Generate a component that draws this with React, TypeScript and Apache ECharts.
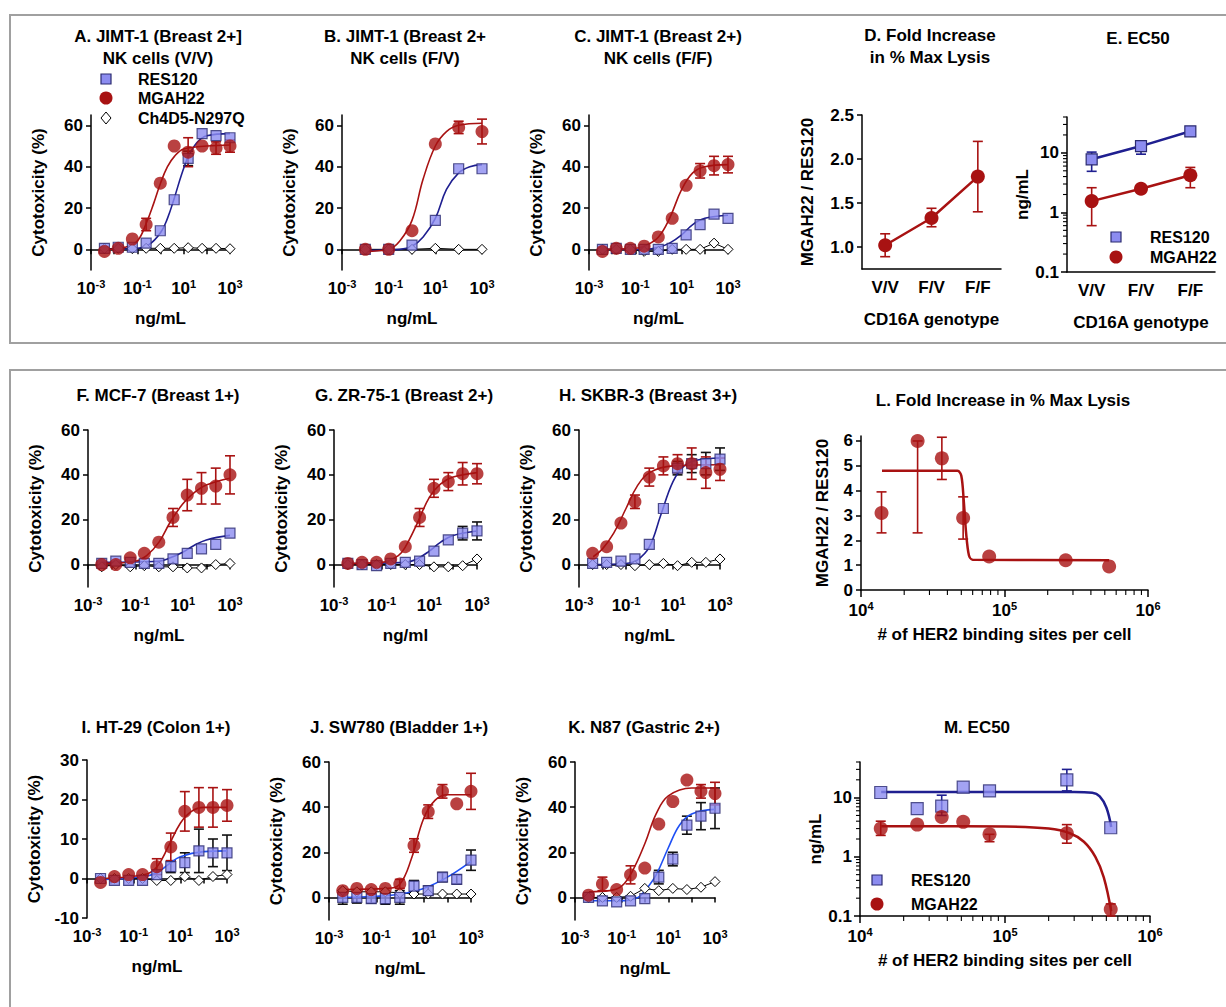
import { useEffect, useRef } from 'react'
import * as echarts from 'echarts'

// concentrations (ng/mL), 4-fold dilutions and 10-fold for panel B
const conc = [0.0038, 0.015, 0.061, 0.24, 0.98, 3.9, 15.6, 62.5, 250, 1000]
const concB = [0.01, 0.1, 1, 10, 100, 1000]

const aRes = [0.5, 1, 1, 3, 9, 24, 44, 56, 55, 54]
const aResErr = [0, 0, 0, 0, 0, 0, 3.5, 0, 0, 0]
const aMgah = [-1, 0.5, 5, 12, 32, 50, 47, 50, 49, 50]
const aMgahErr = [0, 0, 0, 3, 0, 0, 7, 0, 3, 3]
const aCh = [0.3, 0.5, 0.3, 0.5, 0.5, 0.5, 0.8, 0.5, 0.5, 0.3]
const aResFit = [[0.004, 0], [0.1, 0.5], [0.3, 2], [1, 8], [2, 15], [4, 25], [8, 36], [16, 45], [40, 52], [100, 55], [1000, 56]]
const aMgahFit = [[0.004, 0], [0.03, 1], [0.1, 4], [0.25, 13], [0.5, 22], [1, 32], [2, 40], [4, 45], [10, 48.5], [100, 50], [1000, 50.5]]

const bRes = [0, 0, 2, 14, 39, 39]
const bMgah = [0, 0, 9, 51, 59, 57]
const bMgahErr = [0, 0, 0, 0, 3, 6]
const bCh = [0, 0, 0, 0.5, 0, 0]
const bResFit = [[0.01, -0.5], [0.3, 0], [1, 1.5], [3, 6], [10, 15], [30, 29], [100, 37], [300, 40], [1000, 41]]
const bMgahFit = [[0.01, -1], [0.1, 0], [0.3, 4], [1, 14], [3, 34], [10, 50], [30, 57], [100, 60], [1000, 61]]

const cRes = [0, 0.5, 0, 0, 0, 0.5, 7, 12, 17, 15]
const cMgah = [-1, 0.5, 0.5, 1.5, 6, 15, 31, 38, 40.5, 41]
const cMgahErr = [0, 0, 0, 0, 0, 0, 0, 3.5, 4.5, 4]
const cCh = [0, 0, 0, -1, -1, 0, 0, 0, 3, 0]
const cResFit = [[0.004, 0], [0.3, 0], [1, 1], [3, 3], [10, 7], [30, 12], [100, 15], [1000, 16.5]]
const cMgahFit = [[0.004, 0], [0.1, 0.5], [0.3, 2], [1, 6], [3, 15], [10, 29], [30, 37], [100, 40], [1000, 41]]

const fRes = [0.5, 1.5, 1, 0.5, 0.5, 2.5, 5, 7, 9, 14]
const fMgah = [0, 0, 3, 5, 10, 21, 31, 34, 35, 40]
const fMgahErr = [0, 0, 0, 0, 0, 4, 7, 7, 8, 8.5]
const fCh = [-1, 0, -1, -0.5, -1, -1, -1.5, -1.5, 0, 0.5]
const fResFit = [[0.004, 1], [1, 1.5], [3, 3], [10, 5.5], [30, 8.5], [100, 11], [1000, 13]]
const fMgahFit = [[0.004, 0.5], [0.1, 1.5], [0.3, 4], [1, 10], [3, 19], [10, 27], [30, 32], [100, 35.5], [1000, 38.5]]

const gRes = [0.5, 0, -0.5, 0.5, 1, 1.5, 6, 11, 14, 15]
const gResErr = [0, 0, 0, 0, 0, 0, 0, 0, 3, 4]
const gMgah = [0.5, 1, 1, 2.5, 8, 21, 34, 37, 40.5, 40.5]
const gMgahErr = [0, 0, 0, 0, 0, 4, 4, 4, 5, 4.5]
const gCh = [0, 0, 0, 0, 0, 0, -1, -1, -0.5, 2.5]
const gResFit = [[0.004, 0.5], [1, 1], [3, 2.5], [10, 6], [30, 10], [100, 13], [1000, 15]]
const gMgahFit = [[0.004, 0.5], [0.1, 1], [0.5, 4], [1, 8], [3, 18], [10, 30], [30, 36], [100, 39], [1000, 41]]

const hRes = [0.5, 1, 1.5, 2.5, 9, 25, 43, 45, 45, 47]
const hResErr = [0, 0, 0, 0, 0, 0, 3, 4, 5, 5]
const hMgah = [5, 8, 18.5, 28, 39, 44, 45, 45, 41, 42.5]
const hMgahErr = [0, 0, 0, 3, 4, 4, 4, 7, 7, 5]
const hCh = [0, 0, 0, -0.5, 0, 0.5, -0.5, 1, 1, 2.5]
const hResFit = [[0.004, 0], [0.1, 0.5], [0.3, 2], [1, 8], [3, 22], [10, 37], [30, 44], [100, 46.5], [1000, 47.5]]
const hMgahFit = [[0.004, 3.5], [0.01, 7], [0.03, 14], [0.1, 25], [0.3, 35], [1, 41], [10, 44], [1000, 44.5]]

const iRes = [0, -0.5, -0.5, -0.5, 1, 3, 4, 7, 6.5, 6.5]
const iResErr = [0, 0, 0, 0, 0, 1.5, 2.5, 5.5, 3.5, 4.5]
const iMgah = [-1, 0.5, 1, 1, 3, 8, 17, 18, 18, 18.5]
const iMgahErr = [0, 0, 0, 0, 2, 3.5, 5, 5, 5, 4]
const iCh = [0, 0, 0, 0, -0.5, -0.5, 0.5, -0.5, 0.5, 1]
const iResFit = [[0.004, -0.3], [0.3, 0.5], [1, 1.5], [3, 3.5], [10, 5.5], [100, 6.8], [1000, 7]]
const iMgahFit = [[0.004, 0], [0.3, 1], [1, 3], [3, 8], [10, 14], [30, 17], [100, 18], [1000, 18]]

const jRes = [0, 0, -0.5, -0.5, 0, 5, 3, 9, 8, 16.5]
const jResErr = [3, 2.5, 2, 2.5, 3, 2.5, 2, 2, 2, 4.5]
const jMgah = [3, 4, 3.5, 4, 6, 23, 38, 47, 41.5, 47]
const jMgahErr = [0, 0, 0, 0, 2, 3, 3, 3, 0, 8]
const jCh = [3, 2.5, 2.5, 2.5, 2, 1.5, 1.5, 1.5, 1.5, 1.5]
const jResFit = [[0.004, 0], [0.1, 0.5], [1, 1.5], [10, 4], [100, 9], [1000, 16]]
const jMgahFit = [[0.004, 3.5], [0.3, 4], [1, 6], [3, 17], [10, 35], [30, 43], [100, 45.5], [1000, 45.5]]

const kRes = [0, -1.5, -2, -1.5, -0.5, 9, 17, 32, 36, 39.5]
const kResErr = [0, 0, 0, 0, 0, 3, 3, 4, 6, 9]
const kMgah = [1, 6, 3.5, 10, 13, 32.5, 42.5, 52, 47, 46]
const kMgahErr = [0, 3, 0, 4, 0, 0, 0, 0, 3, 5]
const kCh = [0, 0, 0, 0.5, 4, 3, 4, 3.5, 4.5, 7]
const kResFit = [[0.004, -1.5], [0.1, -1.5], [0.5, 0], [1, 3], [3, 10], [10, 22], [30, 32], [100, 37], [1000, 39]]
const kMgahFit = [[0.004, 2.5], [0.03, 3], [0.1, 5], [0.3, 12], [1, 24], [3, 37], [10, 45], [100, 48.5], [1000, 48.5]]

const genotypes = ['V/V', 'F/V', 'F/F']
const dVals = [1.02, 1.33, 1.8]
const dLo = [0.89, 1.23, 1.4]
const dHi = [1.15, 1.44, 2.2]
const eRes = [7.8, 13, 23]
const eResLo = [4.9, 9.5, 23]
const eResHi = [10.3, 15, 23]
const eMgah = [1.55, 2.5, 4.2]
const eMgahLo = [0.6, 2.5, 2.6]
const eMgahHi = [2.6, 2.5, 5.7]

const sites = [13900, 24800, 36600, 51500, 78200, 267000, 536000]
const lVals = [3.1, 6, 5.3, 2.9, 1.35, 1.2, 0.95]
const lLo = [2.3, 2.3, 4.45, 2.05, 1.35, 1.2, 0.95]
const lHi = [3.95, 6, 6.15, 3.75, 1.35, 1.2, 0.95]
const lFit = [[14000, 4.8], [47000, 4.8], [50000, 4.6], [52000, 3.6], [54000, 2.3], [56500, 1.4], [60000, 1.22], [536000, 1.2]]
const mRes = [12.2, 6.5, 7.2, 15, 13, 20, 3.1]
const mResLo = [12.2, 6.5, 5, 15, 13, 13, 3.1]
const mResHi = [12.2, 6.5, 11, 15, 13, 30, 3.1]
const mMgah = [3, 3.5, 4.7, 3.9, 2.4, 2.5, 0.13]
const mMgahLo = [2.3, 3.5, 4.7, 3.9, 1.8, 1.7, 0.1]
const mMgahHi = [4, 3.5, 4.7, 3.9, 2.4, 3.5, 0.16]
const mResFit = [[14000, 12.5], [300000, 12.5], [400000, 12.1], [450000, 10.5], [500000, 6.8], [540000, 3.2]]
const mMgahFit = [[14000, 3.3], [100000, 3.25], [200000, 3.0], [280000, 2.5], [350000, 1.8], [420000, 1.0], [480000, 0.45], [540000, 0.12]]

const RED = '#a81212'
const NAVY = '#1f1f90'
const BLUE = '#1f50f5'
const SQ_FILL = '#8c8cf0'
const SQ_EDGE = '#2b2b70'
const FONT = 'Liberation Sans'

const decades = [0.001, 0.01, 0.1, 1, 10, 100, 1000]
const minors = (lo: number, hi: number) => {
  const out: number[] = []
  for (let d = lo; d < hi; d *= 10) for (let k = 2; k <= 9; k++) out.push(d * k)
  return out
}
const sup = (v: number) => `{b|10}{s|${Math.round(Math.log10(v))}}`
const supRich = {
  b: { fontSize: 17, fontWeight: 'bold', fontFamily: FONT, color: '#000' },
  s: { fontSize: 11, fontWeight: 'bold', fontFamily: FONT, color: '#000', padding: [0, 0, 10, 0] },
}

export default function App() {
  const ref = useRef<HTMLDivElement>(null)

  useEffect(() => {
    if (!ref.current) return
    const chart = echarts.init(ref.current, undefined, { renderer: 'svg' })

    const grid: any[] = []
    const xAxis: any[] = []
    const yAxis: any[] = []
    const series: any[] = []
    const graphic: any[] = []

    const axisLine = { lineStyle: { color: '#000', width: 1.5 } }
    const lbl = { color: '#000', fontSize: 17, fontWeight: 'bold', fontFamily: FONT }
    const nameStyle = { color: '#000', fontSize: 17, fontWeight: 'bold', fontFamily: FONT }

    const errSeries = (gi: number, xi: number, yi: number, data: number[][], color: string) => ({
      type: 'custom',
      xAxisIndex: xi,
      yAxisIndex: yi,
      z: 1,
      data: data.filter((d) => d[2] > d[1]),
      renderItem: (_p: any, api: any) => {
        const a = api.coord([api.value(0), api.value(1)])
        const b = api.coord([api.value(0), api.value(2)])
        const st = { stroke: color, lineWidth: 1.6 }
        return {
          type: 'group',
          children: [
            { type: 'line', shape: { x1: a[0], y1: a[1], x2: b[0], y2: b[1] }, style: st },
            { type: 'line', shape: { x1: a[0] - 5, y1: a[1], x2: a[0] + 5, y2: a[1] }, style: st },
            { type: 'line', shape: { x1: b[0] - 5, y1: b[1], x2: b[0] + 5, y2: b[1] }, style: st },
          ],
        }
      },
    })
    // minor ticks on log axes, placed through the axis scale
    const minorTicks = (xi: number, yi: number, vals: number[], dir: 'x' | 'y', other: number) => ({
      type: 'custom',
      xAxisIndex: xi,
      yAxisIndex: yi,
      silent: true,
      clip: false,
      data: vals.map((v) => (dir === 'x' ? [v, other] : [other, v])),
      renderItem: (params: any, api: any) => {
        const cs = params.coordSys
        const p = api.coord([api.value(0), api.value(1)])
        const st = { stroke: '#000', lineWidth: 1.1 }
        if (dir === 'x') {
          const y0 = cs.y + cs.height
          return { type: 'group', children: [{ type: 'line', shape: { x1: p[0], y1: y0, x2: p[0], y2: y0 + 5 }, style: st }] }
        }
        return { type: 'group', children: [{ type: 'line', shape: { x1: cs.x - 4, y1: p[1], x2: cs.x, y2: p[1] }, style: st }] }
      },
    })
    const title = (text: string, x: number, y: number, size = 17) =>
      graphic.push({
        type: 'text', x, y,
        style: { text, fill: '#000', font: `bold ${size}px "${FONT}"`, textAlign: 'center', textVerticalAlign: 'middle' },
      })

    const curvePanel = (p: any) => {
      const gi = grid.length
      grid.push({ left: p.left, top: p.top, width: p.width, height: p.height })
      const xi = xAxis.length
      xAxis.push({
        type: 'log', logBase: 10, gridIndex: gi, min: 0.001, max: 1000, position: 'bottom',
        axisLine, splitLine: { show: false },
        axisTick: { customValues: decades, length: 5, lineStyle: { color: '#000', width: 1.5 } },
        axisLabel: { customValues: [0.001, 0.1, 10, 1000], formatter: sup, rich: supRich, margin: 8 },
        name: p.xName || 'ng/mL', nameLocation: 'middle', nameGap: 40, nameTextStyle: nameStyle,
      })
      const yi = yAxis.length
      yAxis.push({
        type: 'value', gridIndex: gi, min: p.ymin, max: p.ymax, position: 'left',
        axisLine: { show: true, ...axisLine }, splitLine: { show: false },
        axisTick: { show: true, customValues: p.yticks, length: 5, lineStyle: { color: '#000', width: 1.5 } },
        axisLabel: { ...lbl, customValues: p.yticks },
        name: 'Cytotoxicity (%)', nameLocation: 'middle', nameGap: 44, nameTextStyle: nameStyle,
      })
      const x = p.x
      const pairs = (v: number[]) => v.map((y, i) => [x[i], y])
      const errs = (v: number[], e: number[]) => v.map((y, i) => [x[i], y - e[i], y + e[i]])
      const zero = x.map(() => 0)
      series.push(
        errSeries(gi, xi, yi, errs(p.res, p.resErr || zero), '#111'),
        errSeries(gi, xi, yi, errs(p.mgah, p.mgahErr || zero), RED),
        { type: 'line', xAxisIndex: xi, yAxisIndex: yi, data: pairs(p.ch), symbol: 'diamond', symbolSize: 10, z: 2,
          itemStyle: { color: '#fff', borderColor: '#000', borderWidth: 1 }, lineStyle: { color: '#000', width: 1 } },
        { type: 'line', xAxisIndex: xi, yAxisIndex: yi, data: p.resFit, showSymbol: false, smooth: 0.4, z: 2,
          lineStyle: { color: p.blue, width: 1.6 } },
        { type: 'line', xAxisIndex: xi, yAxisIndex: yi, data: p.mgahFit, showSymbol: false, smooth: 0.4, z: 2,
          lineStyle: { color: RED, width: 1.6 } },
        { type: 'scatter', xAxisIndex: xi, yAxisIndex: yi, data: pairs(p.res), symbol: 'rect', symbolSize: 10, z: 3,
          itemStyle: { color: SQ_FILL, borderColor: SQ_EDGE, borderWidth: 1.2 } },
        { type: 'scatter', xAxisIndex: xi, yAxisIndex: yi, data: pairs(p.mgah), symbol: 'circle', symbolSize: 13, z: 4,
          itemStyle: { color: RED } },
      )
    }

    const t60 = [0, 20, 40, 60]
    curvePanel({ left: 91, top: 115, width: 139, height: 155, ymin: -10, ymax: 65, yticks: t60, x: conc,
      res: aRes, resErr: aResErr, mgah: aMgah, mgahErr: aMgahErr, ch: aCh, resFit: aResFit, mgahFit: aMgahFit, blue: NAVY })
    curvePanel({ left: 342, top: 115, width: 140, height: 155, ymin: -10, ymax: 65, yticks: t60, x: concB,
      res: bRes, mgah: bMgah, mgahErr: bMgahErr, ch: bCh, resFit: bResFit, mgahFit: bMgahFit, blue: NAVY })
    curvePanel({ left: 589, top: 115, width: 139, height: 155, ymin: -10, ymax: 65, yticks: t60, x: conc,
      res: cRes, mgah: cMgah, mgahErr: cMgahErr, ch: cCh, resFit: cResFit, mgahFit: cMgahFit, blue: NAVY })
    curvePanel({ left: 88, top: 430, width: 142, height: 157, ymin: -10, ymax: 60, yticks: t60, x: conc,
      res: fRes, mgah: fMgah, mgahErr: fMgahErr, ch: fCh, resFit: fResFit, mgahFit: fMgahFit, blue: NAVY })
    curvePanel({ left: 334, top: 430, width: 143, height: 157, ymin: -10, ymax: 60, yticks: t60, x: conc, xName: 'ng/ml',
      res: gRes, resErr: gResErr, mgah: gMgah, mgahErr: gMgahErr, ch: gCh, resFit: gResFit, mgahFit: gMgahFit, blue: NAVY })
    curvePanel({ left: 579, top: 430, width: 141, height: 157, ymin: -10, ymax: 60, yticks: t60, x: conc,
      res: hRes, resErr: hResErr, mgah: hMgah, mgahErr: hMgahErr, ch: hCh, resFit: hResFit, mgahFit: hMgahFit, blue: NAVY })
    curvePanel({ left: 87, top: 760, width: 140, height: 158, ymin: -10, ymax: 30, yticks: [-10, 0, 10, 20, 30], x: conc,
      res: iRes, resErr: iResErr, mgah: iMgah, mgahErr: iMgahErr, ch: iCh, resFit: iResFit, mgahFit: iMgahFit, blue: BLUE })
    curvePanel({ left: 329, top: 762, width: 142, height: 158, ymin: -10, ymax: 60, yticks: t60, x: conc,
      res: jRes, resErr: jResErr, mgah: jMgah, mgahErr: jMgahErr, ch: jCh, resFit: jResFit, mgahFit: jMgahFit, blue: BLUE })
    curvePanel({ left: 575, top: 762, width: 140, height: 158, ymin: -10, ymax: 60, yticks: t60, x: conc,
      res: kRes, resErr: kResErr, mgah: kMgah, mgahErr: kMgahErr, ch: kCh, resFit: kResFit, mgahFit: kMgahFit, blue: BLUE })

    const ecMinors = minors(0.1, 10).concat([20, 30, 40])

    // D: fold increase by genotype
    {
      const gi = grid.length
      grid.push({ left: 862, top: 115, width: 139, height: 154 })
      const xi = xAxis.length
      xAxis.push({ type: 'category', gridIndex: gi, data: genotypes, axisLine, axisTick: { alignWithLabel: true, length: 5, lineStyle: { color: '#000', width: 1.5 } },
        axisLabel: { ...lbl, margin: 10 }, name: 'CD16A genotype', nameLocation: 'middle', nameGap: 42, nameTextStyle: nameStyle })
      const yi = yAxis.length
      const dt = [1, 1.5, 2, 2.5]
      yAxis.push({ type: 'value', gridIndex: gi, min: 0.75, max: 2.5, axisLine: { show: true, ...axisLine }, splitLine: { show: false },
        axisTick: { show: true, customValues: dt, length: 5, lineStyle: { color: '#000', width: 1.5 } },
        axisLabel: { ...lbl, customValues: dt, formatter: (v: number) => v.toFixed(1) },
        name: 'MGAH22 / RES120', nameLocation: 'middle', nameGap: 46, nameTextStyle: nameStyle })
      series.push(
        errSeries(gi, xi, yi, dVals.map((_, i) => [i, dLo[i], dHi[i]]), RED),
        { type: 'line', xAxisIndex: xi, yAxisIndex: yi, data: dVals, symbol: 'circle', symbolSize: 14,
          itemStyle: { color: RED }, lineStyle: { color: RED, width: 2.5 } },
      )
    }
    // E: EC50 by genotype
    {
      const gi = grid.length
      grid.push({ left: 1067, top: 117, width: 148, height: 155 })
      const xi = xAxis.length
      xAxis.push({ type: 'category', gridIndex: gi, data: genotypes, axisLine, axisTick: { alignWithLabel: true, length: 5, lineStyle: { color: '#000', width: 1.5 } },
        axisLabel: { ...lbl, margin: 10 }, name: 'CD16A genotype', nameLocation: 'middle', nameGap: 42, nameTextStyle: nameStyle })
      const yi = yAxis.length
      yAxis.push({ type: 'log', logBase: 10, gridIndex: gi, min: 0.1, max: 40, position: 'left', axisLine: { show: true, ...axisLine }, splitLine: { show: false },
        axisTick: { show: true, customValues: [0.1, 1, 10], length: 6, lineStyle: { color: '#000', width: 1.5 } },
        axisLabel: { ...lbl, customValues: [0.1, 1, 10], formatter: (v: number) => String(v) },
        name: 'ng/mL', nameLocation: 'middle', nameGap: 30, nameTextStyle: nameStyle })
      series.push(
        minorTicks(xi, yi, ecMinors, 'y', 0),
        errSeries(gi, xi, yi, eRes.map((_, i) => [i, eResLo[i], eResHi[i]]), NAVY),
        errSeries(gi, xi, yi, eMgah.map((_, i) => [i, eMgahLo[i], eMgahHi[i]]), RED),
        { type: 'line', xAxisIndex: xi, yAxisIndex: yi, data: eRes, symbol: 'rect', symbolSize: 11,
          itemStyle: { color: SQ_FILL, borderColor: SQ_EDGE, borderWidth: 1.2 }, lineStyle: { color: NAVY, width: 2.5 } },
        { type: 'line', xAxisIndex: xi, yAxisIndex: yi, data: eMgah, symbol: 'circle', symbolSize: 14,
          itemStyle: { color: RED }, lineStyle: { color: RED, width: 2.5 } },
      )
    }
    const sitesAxis = (gi: number) => {
      xAxis.push({ type: 'log', logBase: 10, gridIndex: gi, min: 1e4, max: 1e6, position: 'bottom', axisLine, splitLine: { show: false },
        axisTick: { customValues: [1e4, 1e5, 1e6], length: 7, lineStyle: { color: '#000', width: 1.5 } },
        axisLabel: { customValues: [1e4, 1e5, 1e6], formatter: sup, rich: supRich, margin: 10 },
        name: '# of HER2 binding sites per cell', nameLocation: 'middle', nameGap: 36, nameTextStyle: nameStyle })
    }
    // L: fold increase vs HER2 sites
    {
      const gi = grid.length
      grid.push({ left: 861, top: 436, width: 287, height: 154 })
      const xi = xAxis.length
      sitesAxis(gi)
      const yi = yAxis.length
      const lt = [0, 1, 2, 3, 4, 5, 6]
      yAxis.push({ type: 'value', gridIndex: gi, min: 0, max: 6.2, axisLine: { show: true, ...axisLine }, splitLine: { show: false },
        axisTick: { show: true, customValues: lt, length: 5, lineStyle: { color: '#000', width: 1.5 } },
        axisLabel: { ...lbl, customValues: lt },
        name: 'MGAH22 / RES120', nameLocation: 'middle', nameGap: 30, nameTextStyle: nameStyle })
      const pts = sites.map((s, i) => [s, lVals[i]])
      series.push(
        minorTicks(xi, yi, minors(1e4, 1e6), 'x', 1),
        errSeries(gi, xi, yi, sites.map((s, i) => [s, lLo[i], lHi[i]]), RED),
        { type: 'line', xAxisIndex: xi, yAxisIndex: yi, data: lFit, showSymbol: false, smooth: 0.3, lineStyle: { color: RED, width: 2.5 } },
        { type: 'scatter', xAxisIndex: xi, yAxisIndex: yi, data: pts, symbolSize: 14, itemStyle: { color: RED }, z: 4 },
      )
    }
    // M: EC50 vs HER2 sites
    {
      const gi = grid.length
      grid.push({ left: 860, top: 762, width: 290, height: 154 })
      const xi = xAxis.length
      sitesAxis(gi)
      const yi = yAxis.length
      yAxis.push({ type: 'log', logBase: 10, gridIndex: gi, min: 0.1, max: 40, position: 'left', axisLine: { show: true, ...axisLine }, splitLine: { show: false },
        axisTick: { show: true, customValues: [0.1, 1, 10], length: 6, lineStyle: { color: '#000', width: 1.5 } },
        axisLabel: { ...lbl, customValues: [0.1, 1, 10], formatter: (v: number) => String(v) },
        name: 'ng/mL', nameLocation: 'middle', nameGap: 36, nameTextStyle: nameStyle })
      series.push(
        minorTicks(xi, yi, minors(1e4, 1e6), 'x', 1),
        minorTicks(xi, yi, ecMinors, 'y', 1e4),
        errSeries(gi, xi, yi, sites.map((s, i) => [s, mResLo[i], mResHi[i]]), NAVY),
        errSeries(gi, xi, yi, sites.map((s, i) => [s, mMgahLo[i], mMgahHi[i]]), RED),
        { type: 'line', xAxisIndex: xi, yAxisIndex: yi, data: mResFit, showSymbol: false, smooth: 0.4, lineStyle: { color: NAVY, width: 2.5 } },
        { type: 'line', xAxisIndex: xi, yAxisIndex: yi, data: mMgahFit, showSymbol: false, smooth: 0.4, lineStyle: { color: RED, width: 2.5 } },
        { type: 'scatter', xAxisIndex: xi, yAxisIndex: yi, data: sites.map((s, i) => [s, mRes[i]]), symbol: 'rect', symbolSize: 12,
          itemStyle: { color: SQ_FILL, borderColor: SQ_EDGE, borderWidth: 1.2 }, z: 3 },
        { type: 'scatter', xAxisIndex: xi, yAxisIndex: yi, data: sites.map((s, i) => [s, mMgah[i]]), symbolSize: 14,
          itemStyle: { color: RED }, z: 4 },
      )
    }

    // panel frames
    graphic.push(
      { type: 'rect', shape: { x: 10, y: 15, width: 1230, height: 328 }, style: { fill: 'none', stroke: '#a0a0a0', lineWidth: 2 }, z: -1 },
      { type: 'rect', shape: { x: 10, y: 370, width: 1230, height: 660 }, style: { fill: 'none', stroke: '#a0a0a0', lineWidth: 2 }, z: -1 },
    )
    title('A. JIMT-1 (Breast 2+]', 158, 36)
    title('NK cells (V/V)', 158, 58)
    title('B. JIMT-1 (Breast 2+', 405, 36)
    title('NK cells (F/V)', 405, 58)
    title('C. JIMT-1 (Breast 2+)', 658, 36)
    title('NK cells (F/F)', 658, 58)
    title('D. Fold Increase', 930, 35)
    title('in % Max Lysis', 930, 57)
    title('E. EC50', 1138, 38)
    title('F. MCF-7 (Breast 1+)', 158, 395)
    title('G. ZR-75-1 (Breast 2+)', 404, 395)
    title('H. SKBR-3 (Breast 3+)', 648, 395)
    title('L. Fold Increase in % Max Lysis', 1003, 400)
    title('I. HT-29 (Colon 1+)', 156, 727)
    title('J. SW780 (Bladder 1+)', 399, 727)
    title('K. N87 (Gastric 2+)', 644, 727)
    title('M. EC50', 977, 727)

    // legends
    const legend = (sx: number, tx: number, ys: number[], names: string[], kinds: string[]) => {
      names.forEach((n, i) => {
        const y = ys[i]
        if (kinds[i] === 'sq') graphic.push({ type: 'rect', shape: { x: sx - 5, y: y - 5, width: 10, height: 10 }, style: { fill: SQ_FILL, stroke: SQ_EDGE, lineWidth: 1.2 } })
        else if (kinds[i] === 'ci') graphic.push({ type: 'circle', shape: { cx: sx, cy: y, r: 6.5 }, style: { fill: RED } })
        else graphic.push({ type: 'polygon', shape: { points: [[sx, y - 6], [sx + 5, y], [sx, y + 6], [sx - 5, y]] }, style: { fill: '#fff', stroke: '#000', lineWidth: 1 } })
        graphic.push({ type: 'text', x: tx, y, style: { text: n, fill: '#000', font: `bold 16px "${FONT}"`, textVerticalAlign: 'middle' } })
      })
    }
    legend(106, 138, [79, 98, 118], ['RES120', 'MGAH22', 'Ch4D5-N297Q'], ['sq', 'ci', 'di'])
    legend(1116, 1150, [237, 257], ['RES120', 'MGAH22'], ['sq', 'ci'])
    legend(877, 911, [880, 904], ['RES120', 'MGAH22'], ['sq', 'ci'])

    chart.setOption({
      animation: false,
      backgroundColor: '#fff',
      textStyle: { fontFamily: FONT, fontWeight: 'bold' },
      grid, xAxis, yAxis, series, graphic,
    })
    return () => chart.dispose()
  }, [])

  return <div ref={ref} style={{ position: 'absolute', left: 0, top: 0, width: 1226, height: 1007 }} />
}
